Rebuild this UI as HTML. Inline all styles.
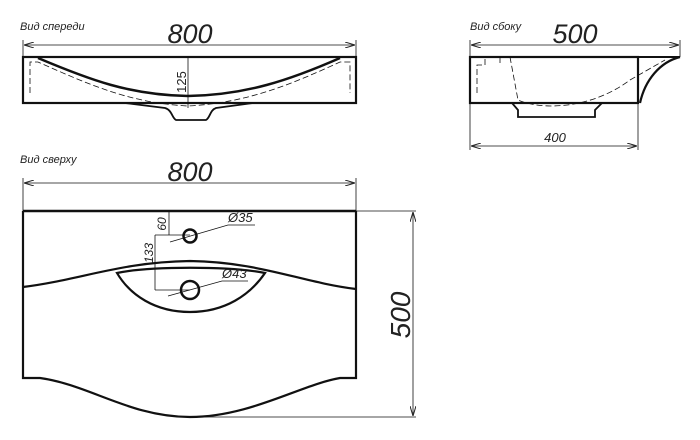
<!DOCTYPE html>
<html><head><meta charset="utf-8"><style>html,body{margin:0;padding:0;background:#fff}svg{display:block}</style></head>
<body>
<svg width="700" height="440" viewBox="0 0 700 440" xmlns="http://www.w3.org/2000/svg" font-family="Liberation Sans, sans-serif">
<defs>
<marker id="a" viewBox="0 0 10 6" refX="10" refY="3" markerWidth="10" markerHeight="6" orient="auto-start-reverse" markerUnits="userSpaceOnUse"><path d="M0,0L10,3L0,6" fill="none" stroke="#222" stroke-width="1"/></marker>
</defs>
<g fill="none" stroke="#111">
<!-- FRONT VIEW -->
<g stroke-width="0.8"><line x1="23" y1="40" x2="23" y2="57"/><line x1="356" y1="40" x2="356" y2="57"/>
<line x1="24" y1="45" x2="355" y2="45" marker-start="url(#a)" marker-end="url(#a)"/></g>
<rect x="23" y="57" width="333" height="46" stroke-width="2.2"/>
<path d="M38,58 C90,80 130,95 188,96 C246,95 290,80 340,58" stroke-width="2.5"/>
<path d="M30,93 V62 H38 C90,85 130,103 188,106 C246,103 290,85 340,62 H350 V93" stroke-width="0.8" stroke-dasharray="6,3"/>
<path d="M125,103 L165,108 C172,110 172,118 176,120 H206 C210,118 210,110 216,108 L253,103" stroke-width="1.8"/>
<line x1="188" y1="58" x2="188" y2="108" stroke-width="0.8"/>
<!-- SIDE VIEW -->
<g stroke-width="0.8"><line x1="470" y1="40" x2="470" y2="57"/><line x1="680" y1="40" x2="680" y2="57"/>
<line x1="471" y1="45" x2="679" y2="45" marker-start="url(#a)" marker-end="url(#a)"/>
<line x1="470" y1="103" x2="470" y2="150"/><line x1="638" y1="103" x2="638" y2="150"/>
<line x1="471" y1="146" x2="637" y2="146" marker-start="url(#a)" marker-end="url(#a)"/></g>
<rect x="470" y="57" width="168" height="46" stroke-width="2.2"/>
<line x1="638" y1="57" x2="680" y2="57" stroke-width="2"/>
<path d="M680,57 C660,62 645,80 640,103" stroke-width="2.2"/>
<path d="M512,103 L518,110 V117 H595 V110 L602,103" stroke-width="1.8"/>
<path d="M477,93 V65 H485 V57 M500,57 V65 M510,57 L518,100 C540,110 590,110 630,80 L665,60" stroke-width="0.8" stroke-dasharray="6,3"/>
<!-- TOP VIEW -->
<g stroke-width="0.8"><line x1="23" y1="178" x2="23" y2="211"/><line x1="356" y1="178" x2="356" y2="211"/>
<line x1="24" y1="183" x2="355" y2="183" marker-start="url(#a)" marker-end="url(#a)"/>
<line x1="356" y1="211" x2="416" y2="211"/><line x1="190" y1="417" x2="416" y2="417"/>
<line x1="413" y1="212" x2="413" y2="416" marker-start="url(#a)" marker-end="url(#a)"/>
<line x1="169" y1="211" x2="169" y2="235"/><line x1="155" y1="235" x2="190" y2="235"/>
<line x1="155" y1="235" x2="155" y2="290"/><line x1="155" y1="290" x2="190" y2="290"/>
<path d="M170,242 L228,225 H255"/><path d="M168,296 L222,281 H248"/></g>
<path d="M23,211 H356" stroke-width="2.5"/>
<path d="M23,211 V378 H40 C90,385 130,417 190,417 C250,417 300,385 340,378 H356 V211" stroke-width="2.2"/>
<path d="M23,287 C80,280 120,262 190,261 C260,262 300,282 356,289" stroke-width="2.2"/>
<path d="M117,273 C150,266 230,266 265,273 C250,295 225,312 190,312 C155,312 130,295 117,273 Z" stroke-width="2.2"/>
<circle cx="190" cy="236" r="6.5" stroke-width="2.5"/>
<circle cx="190" cy="290" r="9" stroke-width="2.5"/>
</g>
<g fill="#222">
<text x="20" y="30" font-size="11" font-style="italic">Вид спереди</text>
<text x="470" y="30" font-size="11" font-style="italic">Вид сбоку</text>
<text x="20" y="163" font-size="11" font-style="italic">Вид сверху</text>
<text x="190" y="43" font-size="27" font-style="italic" text-anchor="middle">800</text>
<text x="575" y="43" font-size="27" font-style="italic" text-anchor="middle">500</text>
<text x="555" y="142" font-size="13" font-style="italic" text-anchor="middle">400</text>
<text x="190" y="181" font-size="27" font-style="italic" text-anchor="middle">800</text>
<text transform="translate(186,82) rotate(-90)" font-size="13" text-anchor="middle">125</text>
<text transform="translate(410,315) rotate(-90)" font-size="28" font-style="italic" text-anchor="middle">500</text>
<text transform="translate(166,224) rotate(-90)" font-size="12" font-style="italic" text-anchor="middle">60</text>
<text transform="translate(153,253) rotate(-90)" font-size="12" font-style="italic" text-anchor="middle">133</text>
<text x="228" y="222" font-size="13" font-style="italic">Ø35</text>
<text x="222" y="278" font-size="13" font-style="italic">Ø43</text>
</g>
</svg>
</body></html>
